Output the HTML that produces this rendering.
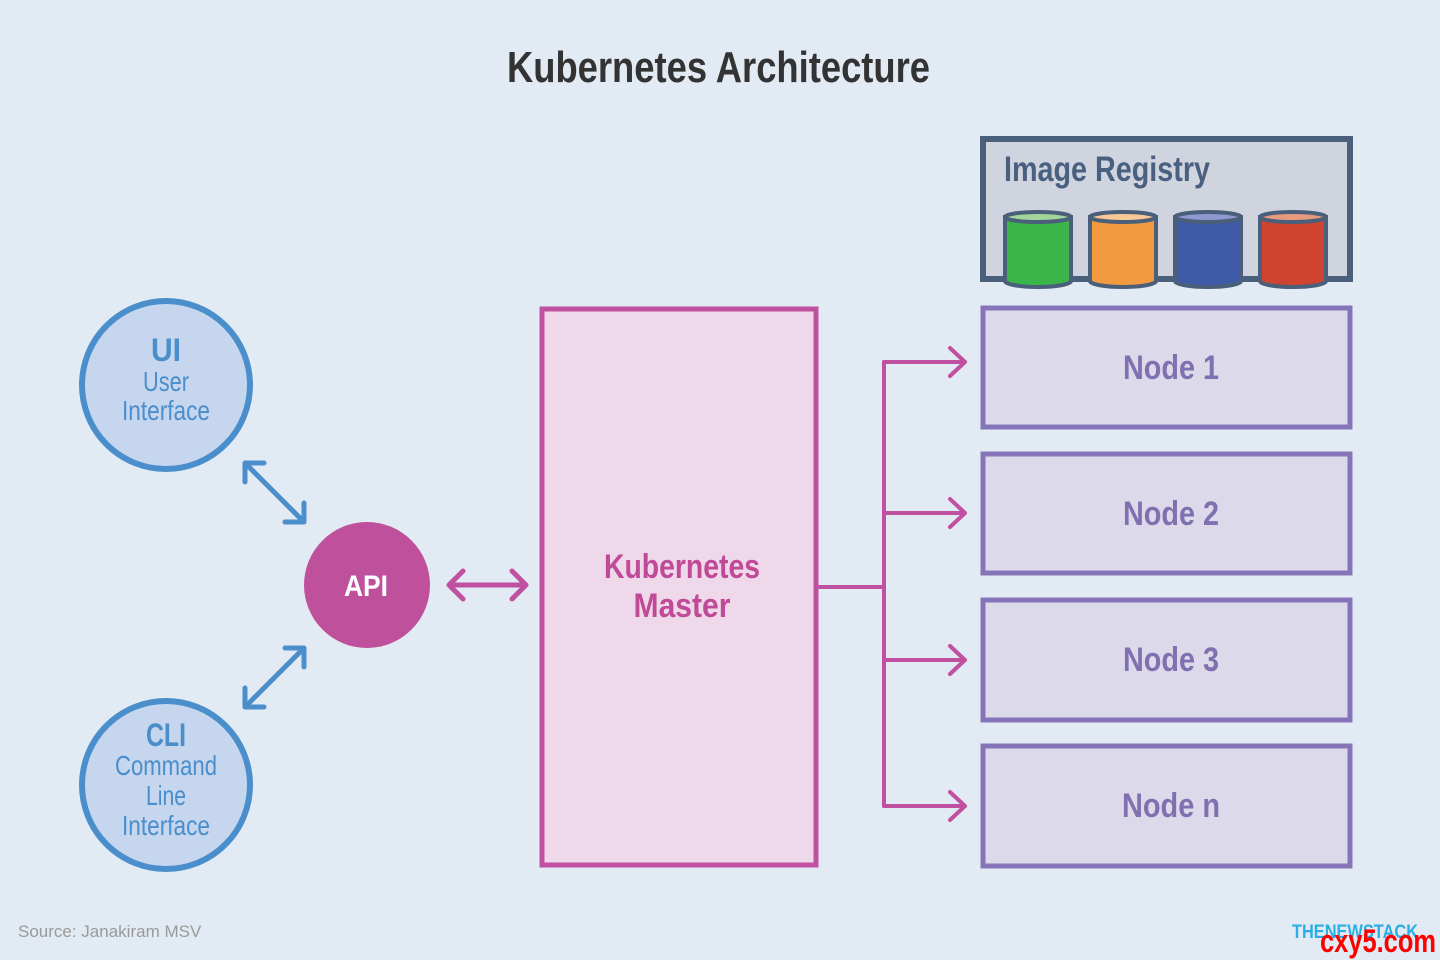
<!DOCTYPE html>
<html><head><meta charset="utf-8"><style>
html,body{margin:0;padding:0;background:#e2eaf3;}
svg{display:block;font-family:"Liberation Sans",sans-serif;}
</style></head><body>
<svg width="1440" height="960" viewBox="0 0 1440 960" xmlns="http://www.w3.org/2000/svg">
<rect width="1440" height="960" fill="#e2eaf3"/>
<text x="507" y="82" font-size="44" font-weight="bold" fill="#333" textLength="423" lengthAdjust="spacingAndGlyphs">Kubernetes Architecture</text>

<rect x="983" y="139" width="367" height="140" fill="#d0d4de" stroke="#4a5f7a" stroke-width="6"/>
<text x="1004" y="181" font-size="35" font-weight="bold" fill="#4a6080" textLength="206" lengthAdjust="spacingAndGlyphs">Image Registry</text>
<g stroke="#4a5f7a" stroke-width="4">
<path d="M1005 217 V281 A33 6 0 0 0 1071 281 V217 Z" fill="#3bb54a"/><ellipse cx="1038" cy="217" rx="33" ry="5" fill="#a3d49a"/>
<path d="M1090 217 V281 A33 6 0 0 0 1156 281 V217 Z" fill="#f29a40"/><ellipse cx="1123" cy="217" rx="33" ry="5" fill="#f8c994"/>
<path d="M1175 217 V281 A33 6 0 0 0 1241 281 V217 Z" fill="#3f5aa8"/><ellipse cx="1208" cy="217" rx="33" ry="5" fill="#8f99d0"/>
<path d="M1260 217 V281 A33 6 0 0 0 1326 281 V217 Z" fill="#d04330"/><ellipse cx="1293" cy="217" rx="33" ry="5" fill="#e89a80"/>
</g>

<g fill="#dcdaea" stroke="#8575b8" stroke-width="5">
<rect x="983" y="308" width="367" height="119"/>
<rect x="983" y="454" width="367" height="119"/>
<rect x="983" y="600" width="367" height="120"/>
<rect x="983" y="746" width="367" height="120"/>
</g>
<g font-size="34" font-weight="bold" fill="#8070b0" text-anchor="middle">
<text x="1171" y="379" textLength="96" lengthAdjust="spacingAndGlyphs">Node 1</text>
<text x="1171" y="525" textLength="96" lengthAdjust="spacingAndGlyphs">Node 2</text>
<text x="1171" y="671" textLength="96" lengthAdjust="spacingAndGlyphs">Node 3</text>
<text x="1171" y="817" textLength="98" lengthAdjust="spacingAndGlyphs">Node n</text>
</g>

<rect x="542" y="309" width="274" height="556" fill="#efd8e9" stroke="#c050a0" stroke-width="5"/>
<g font-size="34" font-weight="bold" fill="#c04a98" text-anchor="middle">
<text x="682" y="578" textLength="156" lengthAdjust="spacingAndGlyphs">Kubernetes</text>
<text x="682" y="617" textLength="97" lengthAdjust="spacingAndGlyphs">Master</text>
</g>

<g stroke="#c050a0" stroke-width="4" fill="none" stroke-linecap="round" stroke-linejoin="round">
<path d="M816 587 H884 M884 362 V806"/>
<path d="M884 362 H964 M950 348 L965 362 L950 376"/>
<path d="M884 513 H964 M950 499 L965 513 L950 527"/>
<path d="M884 660 H964 M950 646 L965 660 L950 674"/>
<path d="M884 806 H964 M950 792 L965 806 L950 820"/>
<path d="M449 585 H526 M463 571 L449 585 L463 599 M512 571 L526 585 L512 599" stroke-width="5"/>
</g>

<circle cx="367" cy="585" r="63" fill="#bf519c"/>
<text x="366" y="596" font-size="30" font-weight="bold" fill="#fff" text-anchor="middle" textLength="44" lengthAdjust="spacingAndGlyphs">API</text>

<g stroke="#4a8ecb" stroke-width="5" fill="none" stroke-linecap="round" stroke-linejoin="round">
<path d="M245 463 L304 522 M245 463 H264 M245 463 V482 M304 522 H285 M304 522 V503"/>
<path d="M245 707 L304 648 M245 707 H264 M245 707 V688 M304 648 H285 M304 648 V667"/>
</g>

<circle cx="166" cy="385" r="84" fill="#c5d6ee" stroke="#4a8ecb" stroke-width="6"/>
<circle cx="166" cy="785" r="84" fill="#c5d6ee" stroke="#4a8ecb" stroke-width="6"/>
<g fill="#4a8ecb" text-anchor="middle">
<text x="166" y="361" font-size="32" font-weight="bold" textLength="30" lengthAdjust="spacingAndGlyphs">UI</text>
<text x="166" y="391" font-size="28" textLength="46" lengthAdjust="spacingAndGlyphs">User</text>
<text x="166" y="420" font-size="28" textLength="88" lengthAdjust="spacingAndGlyphs">Interface</text>
<text x="166" y="746" font-size="32" font-weight="bold" textLength="40" lengthAdjust="spacingAndGlyphs">CLI</text>
<text x="166" y="775" font-size="28" textLength="102" lengthAdjust="spacingAndGlyphs">Command</text>
<text x="166" y="805" font-size="28" textLength="40" lengthAdjust="spacingAndGlyphs">Line</text>
<text x="166" y="835" font-size="28" textLength="88" lengthAdjust="spacingAndGlyphs">Interface</text>
</g>

<text x="18" y="937" font-size="17" fill="#9a9a9a">Source: Janakiram MSV</text>
<text x="1292" y="938" font-size="19" font-weight="bold" fill="#29aee6" textLength="126" lengthAdjust="spacingAndGlyphs">THENEWSTACK</text>
<text x="1320" y="952" font-size="32" font-weight="bold" fill="#f00" textLength="116" lengthAdjust="spacingAndGlyphs">cxy5.com</text>
</svg>
</body></html>
